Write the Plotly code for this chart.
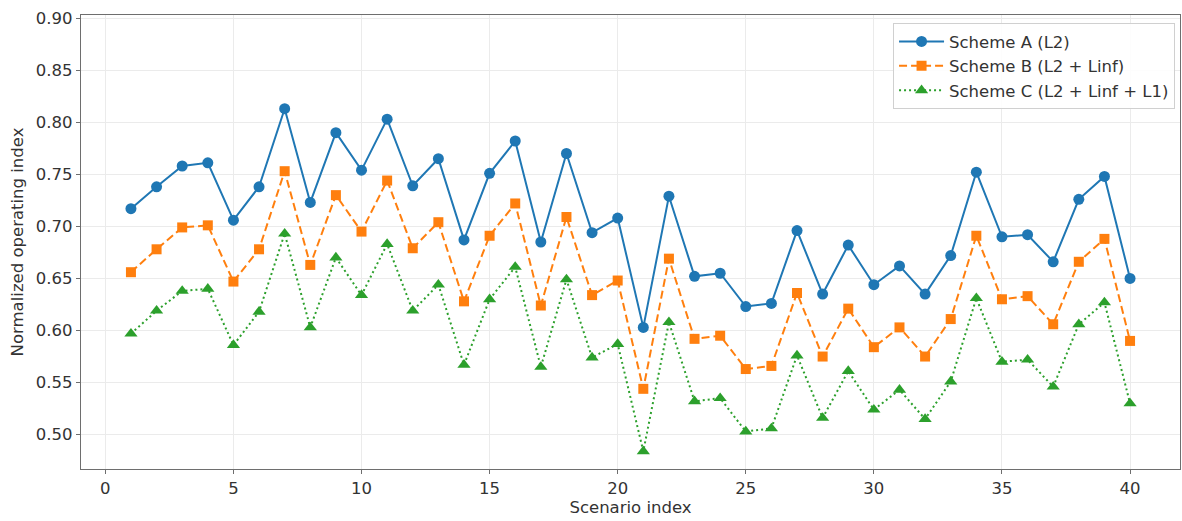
import plotly.graph_objects as go

# Scenario indices and operating index per scheme
scenarios = list(range(1, 41))

scheme_a = [0.717, 0.738, 0.758, 0.761, 0.706, 0.738, 0.813, 0.723, 0.790, 0.754,
            0.803, 0.739, 0.765, 0.687, 0.751, 0.782, 0.685, 0.770, 0.694, 0.708,
            0.603, 0.729, 0.652, 0.655, 0.623, 0.626, 0.696, 0.635, 0.682, 0.644,
            0.662, 0.635, 0.672, 0.752, 0.690, 0.692, 0.666, 0.726, 0.748, 0.650]

scheme_b = [0.656, 0.678, 0.699, 0.701, 0.647, 0.678, 0.753, 0.663, 0.730, 0.695,
            0.744, 0.679, 0.704, 0.628, 0.691, 0.722, 0.624, 0.709, 0.634, 0.648,
            0.544, 0.669, 0.592, 0.595, 0.563, 0.566, 0.636, 0.575, 0.621, 0.584,
            0.603, 0.575, 0.611, 0.691, 0.630, 0.633, 0.606, 0.666, 0.688, 0.590]

scheme_c = [0.597, 0.619, 0.638, 0.640, 0.586, 0.618, 0.693, 0.603, 0.670, 0.634,
            0.683, 0.619, 0.644, 0.567, 0.630, 0.661, 0.565, 0.649, 0.574, 0.587,
            0.484, 0.608, 0.532, 0.535, 0.503, 0.506, 0.576, 0.516, 0.561, 0.524,
            0.543, 0.515, 0.551, 0.631, 0.570, 0.572, 0.546, 0.606, 0.627, 0.530]

series_names = ["Scheme A (L2)", "Scheme B (L2 + Linf)", "Scheme C (L2 + Linf + L1)"]
x_ticks = [0, 5, 10, 15, 20, 25, 30, 35, 40]
y_ticks = [0.50, 0.55, 0.60, 0.65, 0.70, 0.75, 0.80, 0.85, 0.90]

FONT = "DejaVu Sans"
FS = 16.5
TEXT = "#333333"
FRAME = "#6e6e6e"

fig = go.Figure()

fig.add_trace(go.Scatter(
    x=scenarios, y=scheme_a, name=series_names[0], mode="lines+markers",
    line=dict(color="#1f77b4", width=2),
    marker=dict(symbol="circle", size=11, color="#1f77b4"),
))
fig.add_trace(go.Scatter(
    x=scenarios, y=scheme_b, name=series_names[1], mode="lines+markers",
    line=dict(color="#ff7f0e", width=2, dash="8px,4px"),
    marker=dict(symbol="square", size=10, color="#ff7f0e"),
))
fig.add_trace(go.Scatter(
    x=scenarios, y=scheme_c, name=series_names[2], mode="lines+markers",
    line=dict(color="#2ca02c", width=2, dash="2px,3px"),
    marker=dict(symbol="triangle-up", size=11.5, color="#2ca02c"),
))

axis_common = dict(
    showline=True, linecolor=FRAME, linewidth=1.3, mirror=True,
    ticks="outside", ticklen=4, tickcolor=FRAME, tickwidth=1,
    showgrid=True, gridcolor="#ebebeb", gridwidth=1,
    zeroline=False,
    tickfont=dict(family=FONT, size=FS, color=TEXT),
)

fig.update_layout(
    width=1182, height=521,
    margin=dict(l=81, r=2, t=15, b=52),
    paper_bgcolor="white", plot_bgcolor="white",
    font=dict(family=FONT, size=FS, color=TEXT),
    xaxis=dict(
        range=[-0.95, 41.95], tickvals=x_ticks,
        title=dict(text="Scenario index", font=dict(family=FONT, size=FS, color=TEXT), standoff=4),
        **axis_common,
    ),
    yaxis=dict(
        range=[0.467, 0.903], tickvals=y_ticks, tickformat=".2f",
        title=dict(text="Normalized operating index", font=dict(family=FONT, size=FS, color=TEXT), standoff=8),
        **axis_common,
    ),
    legend=dict(
        x=0.9955, y=0.982, xanchor="right", yanchor="top",
        bgcolor="rgba(255,255,255,0.9)", bordercolor="#d0d0d0", borderwidth=1,
        font=dict(family=FONT, size=FS, color=TEXT),
        itemwidth=45,
    ),
    showlegend=True,
)

fig.write_html("out.html")
